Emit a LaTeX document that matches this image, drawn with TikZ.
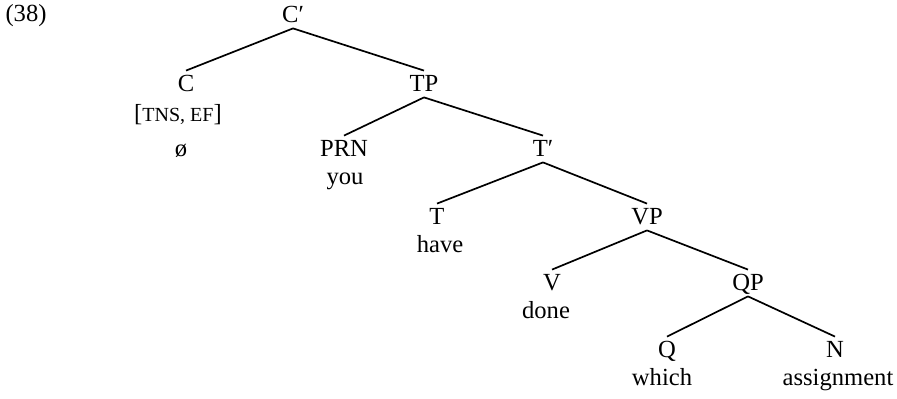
\documentclass[tikz,border=0pt]{standalone}
\usepackage{fontspec}
\setmainfont{Liberation Serif}
\usepackage{tikz}
\usetikzlibrary{positioning}

\tikzset{
  cat/.style={anchor=base, inner sep=2.5pt, text height=8pt, text depth=0pt},
  word/.style={anchor=base, inner sep=0pt},
  branch/.style={line width=0.85pt}
}
\newcommand{\feat}[1]{{\fontsize{10}{10}\selectfont #1}}

\begin{document}
\begin{tikzpicture}[x=0.5pt, y=-0.5pt, font=\fontsize{12.3}{14}\selectfont]
\useasboundingbox (0,0) rectangle (897,399);

\node[word] (exnum) at (26,22) {(38)};

% top level
\node[cat] (cbar) at (293,23) {C′};
\node[cat] (c) at (186,92) {C};
\node[word] (feats) at (178,122) {[\feat{TNS, EF}]};
\node[word] (nullc) at (181,157) {ø};
\node[cat] (tp) at (424,92) {TP};

% subject and T-bar
\node[cat] (prn) at (344,157) {PRN};
\node[word] (you) at (345,185) {you};
\node[cat] (tbar) at (543,157) {T′};

% T and VP
\node[cat] (t) at (437,225) {T};
\node[word] (have) at (440,253) {have};
\node[cat] (vp) at (647,225) {VP};

% V and QP
\node[cat] (v) at (552,291) {V};
\node[word] (done) at (546,319) {done};
\node[cat] (qp) at (748,291) {QP};

% Q and N
\node[cat] (q) at (667,358) {Q};
\node[word] (which) at (662,386) {which};
\node[cat] (n) at (835,358) {N};
\node[word] (assign) at (838,386) {assignment};

\draw[branch] (cbar.south) -- (c.north);
\draw[branch] (cbar.south) -- (tp.north);
\draw[branch] (tp.south) -- (prn.north);
\draw[branch] (tp.south) -- (tbar.north);
\draw[branch] (tbar.south) -- (t.north);
\draw[branch] (tbar.south) -- (vp.north);
\draw[branch] (vp.south) -- (v.north);
\draw[branch] (vp.south) -- (qp.north);
\draw[branch] (qp.south) -- (q.north);
\draw[branch] (qp.south) -- (n.north);
\end{tikzpicture}
\end{document}
